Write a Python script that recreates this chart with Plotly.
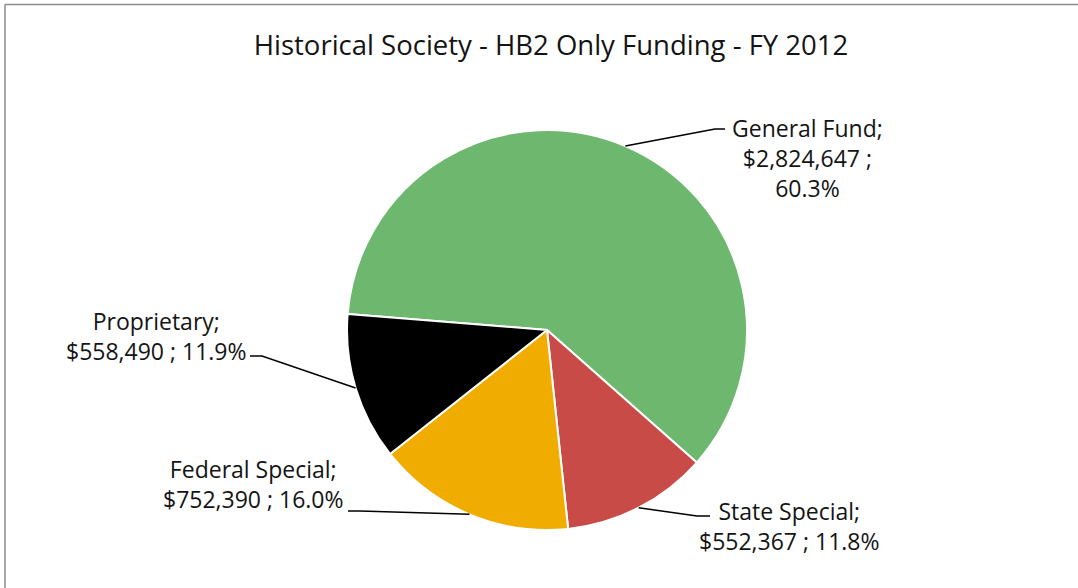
import math
import plotly.graph_objects as go

# Funding sources, FY 2012 (HB2 only)
labels = ["General Fund", "State Special", "Federal Special", "Proprietary"]
amounts = [2824647, 552367, 752390, 558490]
colors = ["#6db86e", "#c84b48", "#f0ad00", "#000000"]
# label text layout: break after the amount (three lines) or not (two lines)
three_line = [True, False, False, False]

W, H = 1078, 588
FONT = "Open Sans"

# pie geometry in pixels
cx, cy, R = 547, 330, 200
start_angle = -85.4  # degrees clockwise from 12 o'clock

# label block centres and leader-line elbows, in pixels
label_pos = [(807, 158), (789, 526), (253, 484), (156, 336)]
elbows = [((725, 129), (715, 129)),
          ((710, 516), (697, 516)),
          ((348, 511), (360, 511)),
          ((250, 356), (262, 356))]


def px(x, y):
    return x / W, 1 - y / H


total = sum(amounts)

fig = go.Figure(go.Pie(
    labels=labels,
    values=amounts,
    sort=False,
    direction="clockwise",
    rotation=start_angle,
    marker=dict(colors=colors, line=dict(color="#ffffff", width=2)),
    textinfo="none",
    hoverinfo="label+value+percent",
    showlegend=False,
    domain=dict(x=[(cx - R) / W, (cx + R) / W],
                y=[1 - (cy + R) / H, 1 - (cy - R) / H]),
))

shapes = []
annotations = []
cum = 0
for lab, val, pos, elb, three in zip(labels, amounts, label_pos, elbows, three_line):
    pct = 100 * val / total
    mid = math.radians(start_angle + 360 * (cum + val / 2) / total)
    cum += val
    ex = cx + R * math.sin(mid)
    ey = cy - R * math.cos(mid)
    (ax0, ay0), (ax1, ay1) = elb
    p0 = px(ax0, ay0)
    p1 = px(ax1, ay1)
    pe = px(ex, ey)
    shapes.append(dict(
        type="path", xref="paper", yref="paper",
        path=f"M {p0[0]},{p0[1]} L {p1[0]},{p1[1]} L {pe[0]},{pe[1]}",
        line=dict(color="#000000", width=1.5),
    ))
    sep = ";<br>" if three else "; "
    text = f"{lab};<br>${val:,} {sep}{pct:.1f}%"
    tx, ty = px(*pos)
    annotations.append(dict(
        text=text, x=tx, y=ty, xref="paper", yref="paper",
        xanchor="center", yanchor="middle", align="center", showarrow=False,
        font=dict(family=FONT, size=23, color="#141414"),
    ))

# chart-area border (top and left edges)
for x0, y0, x1, y1 in [(5, 4.5, W + 5, 4.5), (5, 4.5, 5, H + 5)]:
    a = px(x0, y0)
    b = px(x1, y1)
    shapes.append(dict(type="line", xref="paper", yref="paper",
                       x0=a[0], y0=a[1], x1=b[0], y1=b[1],
                       line=dict(color="#8c8c8c", width=1.5)))

fig.update_layout(
    width=W, height=H,
    margin=dict(l=0, r=0, t=0, b=0),
    paper_bgcolor="#ffffff",
    title=dict(text="Historical Society - HB2 Only Funding - FY 2012",
               x=551 / W, y=1 - 45 / H, xanchor="center", yanchor="middle",
               font=dict(family=FONT, size=27.5, color="#141414")),
    shapes=shapes,
    annotations=annotations,
)

fig.write_html("out.html")
